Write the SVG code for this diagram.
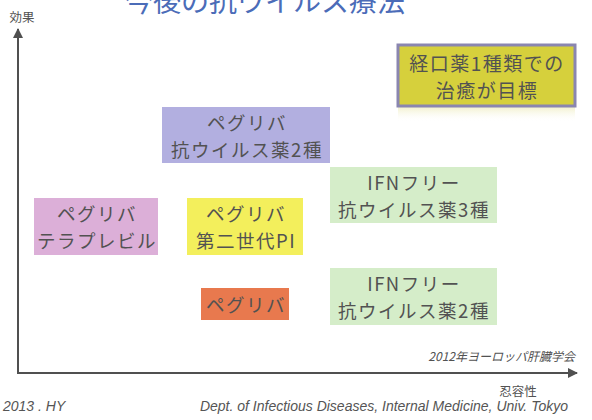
<svg xmlns="http://www.w3.org/2000/svg" width="592" height="420" viewBox="0 0 592 420">
<defs>
<marker id="ah" viewBox="0 0 10 10" refX="9" refY="5" markerWidth="5" markerHeight="5" orient="auto" markerUnits="strokeWidth">
<path d="M0,0 L10,5 L0,10 z" fill="#505050"/>
</marker>
<linearGradient id="refl" x1="0" y1="0" x2="0" y2="1">
<stop offset="0" stop-color="#e6e4a0" stop-opacity="0.6"/>
<stop offset="1" stop-color="#ffffff" stop-opacity="0"/>
</linearGradient>
</defs>
<style>
.t{font-family:"Noto Sans CJK JP","Liberation Sans",sans-serif;fill:#525252;text-anchor:middle;dominant-baseline:central}
.b{font-size:18.5px;letter-spacing:1.5px}
.s{font-size:12.5px}
.i{font-family:"Liberation Sans","Noto Sans CJK JP",sans-serif;font-style:italic;fill:#555;font-size:14px}
.ax{stroke:#505050;stroke-width:2;fill:none}
</style>
<rect width="592" height="420" fill="#ffffff"/>
<text x="265" y="12" class="t" style="font-size:28px;fill:#4b6cb8;dominant-baseline:alphabetic">今後の抗ウイルス療法</text>
<g id="connectors">
<line class="ax" x1="18" y1="373" x2="18" y2="29" marker-end="url(#ah)"/>
<line class="ax" x1="17" y1="373" x2="577" y2="373" marker-end="url(#ah)"/>
</g>
<text x="22" y="16" class="t s">効果</text>
<text x="518" y="390" class="t s">忍容性</text>
<g id="goal">
<rect x="398" y="106" width="177" height="16" fill="url(#refl)"/>
<rect x="398" y="45" width="177" height="61" fill="#d6d03c" stroke="#8a86b0" stroke-width="3"/>
<text x="487" y="62" class="t" style="font-size:19px;letter-spacing:1.5px">経口薬1種類での</text>
<text x="487" y="89.5" class="t" style="font-size:19px;letter-spacing:1.5px">治癒が目標</text>
</g>
<g id="pegriba-2">
<rect x="162" y="107" width="168" height="56" fill="#b2afe0"/>
<text x="247" y="122" class="t b">ペグリバ</text>
<text x="247" y="149" class="t b">抗ウイルス薬2種</text>
</g>
<g id="ifn-3">
<rect x="330" y="167" width="167" height="56" fill="#d5edc9"/>
<text x="414" y="182" class="t b">IFNフリー</text>
<text x="414" y="209" class="t b">抗ウイルス薬3種</text>
</g>
<g id="telaprevir">
<rect x="34" y="198" width="124" height="57" fill="#dcafd8"/>
<text x="97" y="213" class="t b">ペグリバ</text>
<text x="97" y="240" class="t b">テラプレビル</text>
</g>
<g id="pi2">
<rect x="187" y="198" width="116" height="57" fill="#f3ef5c"/>
<text x="246" y="213" class="t b">ペグリバ</text>
<text x="246" y="240" class="t b">第二世代PI</text>
</g>
<g id="pegriba">
<rect x="201" y="288" width="88" height="32" fill="#e8794e"/>
<text x="246" y="304" class="t b">ペグリバ</text>
</g>
<g id="ifn-2">
<rect x="330" y="268" width="167" height="57" fill="#d5edc9"/>
<text x="414" y="283" class="t b">IFNフリー</text>
<text x="414" y="310" class="t b">抗ウイルス薬2種</text>
</g>
<text x="575" y="355" class="t" style="font-size:12px;font-style:italic;text-anchor:end">2012年ヨーロッパ肝臓学会</text>
<text x="3" y="406" class="i" style="dominant-baseline:central">2013 . HY</text>
<text x="568" y="406" class="i" style="text-anchor:end;dominant-baseline:central">Dept. of Infectious Diseases, Internal Medicine, Univ. Tokyo</text>
</svg>
